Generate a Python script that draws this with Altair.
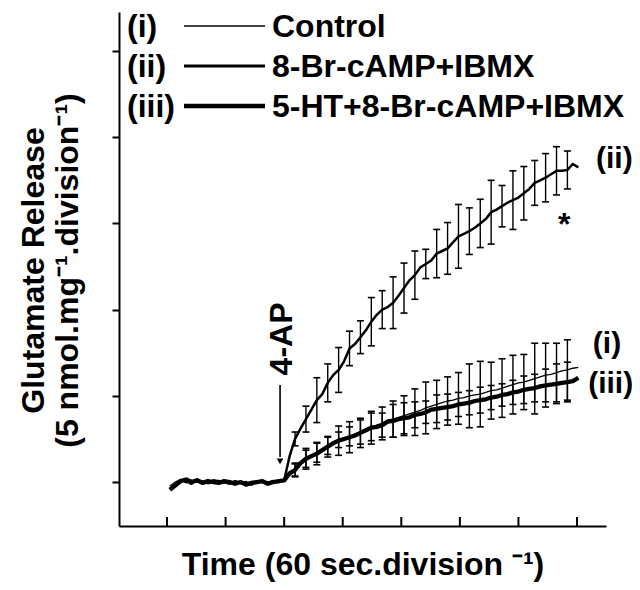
import altair as alt
import pandas as pd

# ---------------- data ----------------
time_div = [0.047, 0.140, 0.233, 0.326, 0.419, 0.512, 0.605, 0.698, 0.791, 0.884,
            0.977, 1.070, 1.163, 1.256, 1.349, 1.442, 1.535, 1.628, 1.721, 1.814,
            1.907, 2.000, 2.093, 2.186, 2.279, 2.372, 2.465, 2.558, 2.651, 2.744,
            2.837, 2.930, 3.023, 3.116, 3.209, 3.302, 3.395, 3.488, 3.581, 3.674,
            3.767, 3.860, 3.953, 4.046, 4.139, 4.232, 4.325, 4.418, 4.511, 4.604,
            4.697, 4.790, 4.883, 4.976, 5.069, 5.162, 5.255, 5.348, 5.441, 5.534,
            5.627, 5.720, 5.813, 5.906, 5.999, 6.092, 6.185, 6.278, 6.371, 6.464,
            6.557, 6.650, 6.743, 6.836, 6.929, 7.022]

control = [-0.05, 0.00, 0.03, -0.01, 0.02, 0.00, 0.01, -0.02, 0.00, 0.02,
           -0.01, 0.00, 0.01, 0.00, -0.02, 0.00, 0.01, -0.01, 0.00, 0.02, 0.00,
           0.02, 0.08, 0.14, 0.20, 0.27, 0.31, 0.34, 0.38, 0.42, 0.45,
           0.49, 0.51, 0.53, 0.56, 0.58, 0.61, 0.64, 0.66, 0.68, 0.72,
           0.73, 0.75, 0.77, 0.79, 0.81, 0.83, 0.86, 0.88, 0.90, 0.92,
           0.94, 0.95, 0.97, 0.98, 1.00, 1.01, 1.02, 1.04, 1.06, 1.07,
           1.09, 1.11, 1.13, 1.15, 1.16, 1.18, 1.20, 1.22, 1.24, 1.25,
           1.27, 1.29, 1.30, 1.32, 1.33]

camp = [-0.08, -0.03, 0.02, 0.01, -0.02, 0.03, 0.00, -0.01, 0.02, 0.01,
        0.00, -0.02, 0.01, -0.01, 0.00, -0.03, 0.00, 0.01, -0.02, 0.01, 0.00,
        0.02, 0.30, 0.50, 0.62, 0.73, 0.84, 0.95, 1.02, 1.15, 1.24,
        1.30, 1.40, 1.55, 1.60, 1.68, 1.76, 1.86, 1.94, 2.00, 2.03,
        2.08, 2.16, 2.25, 2.34, 2.40, 2.49, 2.53, 2.57, 2.65, 2.68,
        2.71, 2.78, 2.85, 2.88, 2.91, 2.95, 3.00, 3.05, 3.13, 3.16,
        3.20, 3.24, 3.27, 3.30, 3.35, 3.40, 3.47, 3.50, 3.53, 3.57,
        3.61, 3.61, 3.62, 3.69, 3.65]

ht_camp = [-0.09, -0.04, 0.01, 0.03, 0.00, 0.02, -0.01, 0.01, 0.00, -0.01,
           0.01, 0.00, -0.02, 0.00, -0.03, -0.01, 0.00, 0.01, -0.02, 0.00, 0.01,
           0.02, 0.10, 0.14, 0.22, 0.27, 0.30, 0.33, 0.37, 0.41, 0.45,
           0.48, 0.50, 0.52, 0.54, 0.57, 0.60, 0.63, 0.64, 0.66, 0.70,
           0.71, 0.73, 0.74, 0.75, 0.78, 0.79, 0.81, 0.84, 0.85, 0.86,
           0.87, 0.88, 0.90, 0.91, 0.92, 0.94, 0.95, 0.96, 0.98, 0.99,
           1.01, 1.02, 1.04, 1.05, 1.07, 1.08, 1.09, 1.11, 1.12, 1.13,
           1.14, 1.15, 1.16, 1.17, 1.21]

bar_time = [2.186, 2.372, 2.558, 2.744, 2.930, 3.116, 3.302, 3.488, 3.674, 3.860,
            4.046, 4.232, 4.418, 4.604, 4.790, 4.976, 5.162, 5.348, 5.534, 5.720,
            5.906, 6.092, 6.278, 6.464, 6.650, 6.836]
err_control = [0.08, 0.12, 0.11, 0.10, 0.09, 0.11, 0.14, 0.16, 0.19, 0.21, 0.23, 0.27, 0.30,
               0.28, 0.28, 0.30, 0.37, 0.38, 0.33, 0.34, 0.34, 0.32, 0.41, 0.37, 0.34, 0.35]
err_camp = [0.08, 0.15, 0.26, 0.22, 0.26, 0.20, 0.19, 0.28, 0.22, 0.30, 0.29, 0.28, 0.17,
            0.28, 0.30, 0.37, 0.27, 0.28, 0.37, 0.24, 0.34, 0.31, 0.26, 0.28, 0.28, 0.22]
err_ht = [0.07, 0.10, 0.13, 0.12, 0.17, 0.18, 0.17, 0.19, 0.14, 0.19, 0.18, 0.15, 0.13,
          0.16, 0.15, 0.14, 0.14, 0.15, 0.14, 0.13, 0.14, 0.16, 0.16, 0.19, 0.23, 0.23]

series_tag = ["(i)", "(ii)", "(iii)"]
series_name = ["Control", "8-Br-cAMP+IBMX", "5-HT+8-Br-cAMP+IBMX"]
x_ticks = [0, 1, 2, 3, 4, 5, 6, 7]
y_ticks = [0, 1, 2, 3, 4, 5]

# end labels and annotations (data coordinates)
end_label_time = [7.27, 7.325, 7.19]
end_label_value = [1.50, 3.64, 1.03]
ap_time = 1.93
ap_text_time = 2.134
ap_text_value = 1.66
arrow_top = 1.125
arrow_tip = 0.24
star_time = 6.78
star_value = 2.87

# ---------------- layout / style ----------------
TOP = 4
W, H = 487, 522 - TOP - 4
FONT = "Liberation Sans"
FS = 32
xs = alt.Scale(domain=[-0.82, 7.495], nice=False, zero=False)
ys = alt.Scale(domain=[-0.51, (482 - 8 - TOP) / 86.2], nice=False, zero=False)
widths = [1.3, 2.5, 4.3]

X_AXIS = alt.Axis(
    title="Time (60 sec.division ⁻¹)", ticks=False, labels=False, grid=False,
    domainColor="black", domainWidth=2, titleX=W / 2, titleY=48,
    titleBaseline="alphabetic", titleFont=FONT, titleFontSize=FS,
    titleFontWeight="bold", titleColor="black")
Y_AXIS = alt.Axis(
    title=["Glutamate Release", "(5 nmol.mg⁻¹.division⁻¹)"], values=y_ticks,
    labels=False, grid=False, tickSize=7, tickWidth=2, tickColor="black",
    domainColor="black", domainWidth=2, titleX=-76, titleY=H / 2 + 1,
    titleAngle=270, titleAlign="center", titleBaseline="alphabetic",
    titleLineHeight=34, titleFont=FONT, titleFontSize=FS,
    titleFontWeight="bold", titleColor="black")


def X(f):
    return alt.X(f, scale=xs, axis=X_AXIS)


def Y(f):
    return alt.Y(f, scale=ys, axis=Y_AXIS)


series_vals = [control, camp, ht_camp]
series_err = [err_control, err_camp, err_ht]

layers = []

# inward x ticks
xt = alt.Chart(pd.DataFrame({"t": x_ticks})).mark_rule(color="black", strokeWidth=2).encode(
    x=X("t:Q"), y=alt.value(H - 9), y2=alt.value(H))
layers.append(xt)

# error bars
for i in range(3):
    lookup = dict(zip(time_div, series_vals[i]))
    means = [lookup[t] for t in bar_time]
    df = pd.DataFrame({"t": bar_time,
                       "lo": [m - e for m, e in zip(means, series_err[i])],
                       "hi": [m + e for m, e in zip(means, series_err[i])]})
    base = alt.Chart(df)
    layers.append(base.mark_rule(color="black", strokeWidth=1.4).encode(
        x=X("t:Q"), y=Y("lo:Q"), y2="hi:Q"))
    for f in ["lo", "hi"]:
        layers.append(base.mark_rule(color="black", strokeWidth=1.6,
                                     xOffset=-3.5, x2Offset=3.5).encode(
            x=X("t:Q"), x2="t:Q", y=Y(f + ":Q")))

# lines
for i in [2, 1, 0]:
    df = pd.DataFrame({"t": time_div, "v": series_vals[i]})
    layers.append(alt.Chart(df).mark_line(color="black", strokeWidth=widths[i],
                                          strokeJoin="round").encode(
        x=X("t:Q"), y=Y("v:Q")))

# end labels
lab_df = pd.DataFrame({"t": end_label_time, "v": end_label_value, "txt": series_tag})
layers.append(alt.Chart(lab_df).mark_text(font=FONT, fontSize=FS - 2, fontWeight="bold",
                                          align="left", baseline="alphabetic",
                                          color="black").encode(
    x=X("t:Q"), y=Y("v:Q"), text="txt:N"))

# asterisk
layers.append(alt.Chart(pd.DataFrame({"t": [star_time], "v": [star_value], "txt": ["*"]}))
              .mark_text(font=FONT, fontSize=FS, fontWeight="bold", align="center",
                         baseline="alphabetic", color="black").encode(
    x=X("t:Q"), y=Y("v:Q"), text="txt:N"))

# 4-AP annotation
layers.append(alt.Chart(pd.DataFrame({"t": [ap_text_time], "v": [ap_text_value], "txt": ["4-AP"]}))
              .mark_text(font=FONT, fontSize=FS, fontWeight="bold", align="center",
                         baseline="alphabetic", angle=270, color="black").encode(
    x=X("t:Q"), y=Y("v:Q"), text="txt:N"))
layers.append(alt.Chart(pd.DataFrame({"t": [ap_time], "a": [arrow_top], "b": [arrow_tip + 0.05]}))
              .mark_rule(color="black", strokeWidth=1.6).encode(
    x=X("t:Q"), y=Y("a:Q"), y2="b:Q"))
layers.append(alt.Chart(pd.DataFrame({"t": [ap_time], "v": [arrow_tip]}))
              .mark_point(shape="triangle-down", filled=True, size=45, color="black",
                          opacity=1).encode(
    x=X("t:Q"), y=Y("v:Q")))

# legend (top-left, inside the plot)
leg_base = [v - TOP for v in [29, 69, 109]]
for i in range(3):
    ldf = pd.DataFrame({"tag": [series_tag[i]], "name": [series_name[i]]})
    lc = alt.Chart(ldf)
    layers.append(lc.mark_text(font=FONT, fontSize=FS, fontWeight="bold", align="left",
                               baseline="alphabetic", color="black").encode(
        x=alt.value(8), y=alt.value(leg_base[i]), text="tag:N"))
    layers.append(lc.mark_rule(color="black", strokeWidth=widths[i] + 0.3).encode(
        x=alt.value(65), x2=alt.value(146), y=alt.value(leg_base[i] - 11)))
    layers.append(lc.mark_text(font=FONT, fontSize=FS, fontWeight="bold", align="left",
                               baseline="alphabetic", color="black").encode(
        x=alt.value(153), y=alt.value(leg_base[i]), text="name:N"))

chart = alt.layer(*layers).properties(
    width=W, height=H,
    autosize=alt.AutoSizeParams(type="none"),
    padding={"left": 111, "top": TOP, "right": 26, "bottom": 56},
    background="white",
).configure_view(strokeWidth=0).configure_axis(
    domainColor="black", domainWidth=2, tickColor="black", tickWidth=2)

chart.save("out.html", embed_options={"renderer": "svg", "actions": False})
